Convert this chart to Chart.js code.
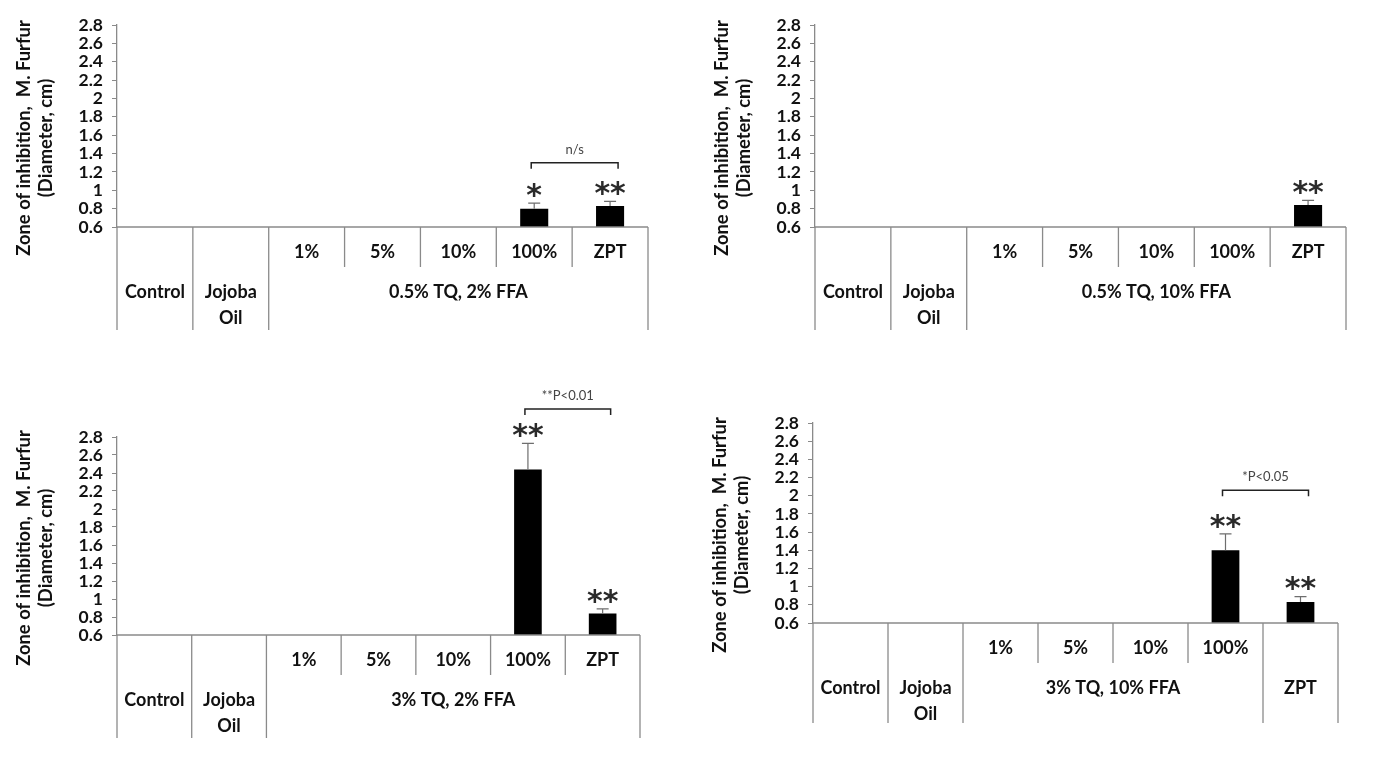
<!DOCTYPE html>
<html>
<head>
<meta charset="utf-8">
<script src="https://cdn.jsdelivr.net/npm/chart.js@4.4.1/dist/chart.umd.min.js"></script>
<style>
  html, body { margin:0; background:#fff; }
  #wrap { position:relative; width:1374px; height:760px; overflow:hidden; }
  #wrap canvas { position:absolute; }
</style>
</head>
<body>
<div id="wrap">
  <canvas id="p1" width="690" height="345" style="left:0;top:0"></canvas>
  <canvas id="p2" width="684" height="345" style="left:690px;top:0"></canvas>
  <canvas id="p3" width="690" height="415" style="left:0;top:345px"></canvas>
  <canvas id="p4" width="684" height="415" style="left:690px;top:345px"></canvas>
</div>
<script>
/* ---------- data ---------- */
const categories  = ['Control', 'Jojoba Oil', '1%', '5%', '10%', '100%', 'ZPT'];
const catLines    = [['Control'], ['Jojoba', 'Oil'], ['1%'], ['5%'], ['10%'], ['100%'], ['ZPT']];
const yTickValues = [0.6, 0.8, 1, 1.2, 1.4, 1.6, 1.8, 2, 2.2, 2.4, 2.6, 2.8];
const yTickLabels = ['0.6', '0.8', '1', '1.2', '1.4', '1.6', '1.8', '2', '2.2', '2.4', '2.6', '2.8'];
const yTitle      = ['Zone of inhibition,  M. Furfur', '(Diameter, cm)'];

/* panel 1 : 0.5% TQ, 2% FFA */
const p1Values  = [null, null, null, null, null, 0.80, 0.83];
const p1Err     = [null, null, null, null, null, 0.06, 0.05];
const p1Stars   = ['', '', '', '', '', '*', '**'];
const p1Group   = '0.5% TQ, 2% FFA';
const p1Bracket = 'n/s';

/* panel 2 : 0.5% TQ, 10% FFA */
const p2Values  = [null, null, null, null, null, null, 0.84];
const p2Err     = [null, null, null, null, null, null, 0.05];
const p2Stars   = ['', '', '', '', '', '', '**'];
const p2Group   = '0.5% TQ, 10% FFA';

/* panel 3 : 3% TQ, 2% FFA */
const p3Values  = [null, null, null, null, null, 2.44, 0.84];
const p3Err     = [null, null, null, null, null, 0.29, 0.05];
const p3Stars   = ['', '', '', '', '', '**', '**'];
const p3Group   = '3% TQ, 2% FFA';
const p3Bracket = '**P<0.01';

/* panel 4 : 3% TQ, 10% FFA */
const p4Values  = [0.6, 0.6, 0.6, 0.6, 0.6, 1.40, 0.83];
const p4Err     = [null, null, null, null, null, 0.18, 0.06];
const p4Stars   = ['', '', '', '', '', '**', '**'];
const p4Group   = '3% TQ, 10% FFA';
const p4Bracket = '*P<0.05';

/* ---------- style ---------- */
const FONT  = "Lato, 'Open Sans', sans-serif";
const LINE  = '#8a8a8a';
const TEXT  = '#111';
Chart.defaults.font.family = FONT;

/* ---------- plugins ---------- */
const yTitlePlugin = {
  id: 'yTitle',
  afterDraw (chart) {
    const { ctx, chartArea: a } = chart;
    const cy = (a.top + a.bottom) / 2 + 12;
    ctx.save();
    ctx.fillStyle = TEXT;
    ctx.font = `bold 20px ${FONT}`;
    const k = 236 / ctx.measureText(yTitle[0]).width;      // fit first line to ~236px
    ctx.font = `bold ${(20 * k).toFixed(1)}px ${FONT}`;
    ctx.textAlign = 'center';
    ctx.textBaseline = 'middle';
    [a.left - 93, a.left - 71].forEach((x, i) => {
      ctx.save();
      ctx.translate(x, cy);
      ctx.rotate(-Math.PI / 2);
      ctx.fillText(yTitle[i], 0, 0);
      ctx.restore();
    });
    ctx.restore();
  }
};

const tablePlugin = {
  id: 'table',
  afterDraw (chart, args, o) {
    const { ctx, chartArea: a } = chart;
    const n    = categories.length;
    const w    = (a.right - a.left) / n;
    const edge = i => a.left + i * w;
    const top = a.bottom, mid = a.bottom + 40, bot = a.bottom + o.depth;

    ctx.save();
    ctx.strokeStyle = LINE;
    ctx.lineWidth = 1.3;
    const seg = (x1, y1, x2, y2) => {
      ctx.beginPath(); ctx.moveTo(x1, y1); ctx.lineTo(x2, y2); ctx.stroke();
    };
    seg(a.left, top, a.right, top);
    for (let i = 0; i <= n; i++) {
      const full = i <= 2 || i === o.groupEnd + 1 || i === n;
      seg(edge(i), top, edge(i), full ? bot : mid);
    }

    ctx.fillStyle = TEXT;
    ctx.font = `bold 18px ${FONT}`;
    ctx.textAlign = 'center';
    ctx.textBaseline = 'middle';
    catLines.forEach((lines, i) => {
      const cx = edge(i) + w / 2;
      const inRow1 = i >= 2 && i <= o.groupEnd;
      lines.forEach((t, k) => ctx.fillText(t, cx, (inRow1 ? top + 25 : top + 65) + k * 26));
    });
    ctx.fillText(o.group, (edge(2) + edge(o.groupEnd + 1)) / 2, top + 65);
    ctx.restore();
  }
};

const marksPlugin = {
  id: 'marks',
  afterDatasetsDraw (chart, args, o) {
    const { ctx, scales: { x, y } } = chart;
    ctx.save();
    o.values.forEach((v, i) => {
      if (v == null) return;
      const cx = x.getPixelForValue(i);
      let topY = y.getPixelForValue(v);
      const e = o.err[i];
      if (e) {
        const ey = y.getPixelForValue(v + e);
        ctx.strokeStyle = '#6e6e6e';
        ctx.lineWidth = 1.2;
        ctx.beginPath();
        ctx.moveTo(cx, topY); ctx.lineTo(cx, ey);
        ctx.moveTo(cx - 6, ey); ctx.lineTo(cx + 6, ey);
        ctx.stroke();
        topY = ey;
      }
      if (o.stars[i]) {
        ctx.fillStyle = '#2a2a2a';
        ctx.font = `bold 30px 'DejaVu Sans', sans-serif`;
        ctx.textAlign = 'center';
        ctx.textBaseline = 'middle';
        ctx.fillText(o.stars[i], cx, topY - 6);
      }
    });

    const b = o.bracket;
    if (b) {
      const x1 = x.getPixelForValue(b.from) - 3;
      const x2 = x.getPixelForValue(b.to) + 8;
      const by = y.getPixelForValue(b.level);
      ctx.strokeStyle = '#222';
      ctx.lineWidth = 1.5;
      ctx.beginPath();
      ctx.moveTo(x1, by + 6); ctx.lineTo(x1, by); ctx.lineTo(x2, by); ctx.lineTo(x2, by + 6);
      ctx.stroke();
      ctx.fillStyle = '#444';
      ctx.font = `13px ${FONT}`;
      ctx.textAlign = 'center';
      ctx.textBaseline = 'middle';
      ctx.fillText(b.label, (x1 + x2) / 2, by - 13);
    }
    ctx.restore();
  }
};

/* ---------- build ---------- */
function makePanel (id, cfg) {
  return new Chart(document.getElementById(id), {
    type: 'bar',
    data: {
      labels: categories,
      datasets: [{
        data: cfg.values,
        backgroundColor: '#000',
        barPercentage: 0.37,
        categoryPercentage: 1,
        minBarLength: cfg.minBar || 0
      }]
    },
    options: {
      responsive: false,
      animation: false,
      layout: { padding: { left: 0, top: cfg.pad.top, right: cfg.pad.right, bottom: cfg.pad.bottom } },
      plugins: {
        legend: { display: false },
        tooltip: { enabled: false },
        table: { depth: cfg.depth, groupEnd: cfg.groupEnd, group: cfg.group },
        marks: { values: cfg.values, err: cfg.err, stars: cfg.stars, bracket: cfg.bracket }
      },
      scales: {
        x: { display: false },
        y: {
          min: 0.6, max: 2.8,
          afterBuildTicks: s => { s.ticks = yTickValues.map(v => ({ value: v })); },
          afterFit: s => { s.width = cfg.axisW; },
          border: { display: true, color: LINE, width: 1.3 },
          grid: { drawOnChartArea: false, drawTicks: true, tickLength: 5, color: LINE },
          ticks: {
            autoSkip: false,
            padding: 9, color: TEXT,
            font: { size: 17.5, weight: 'bold' },
            callback: (v, i) => yTickLabels[i]
          }
        }
      }
    },
    plugins: [yTitlePlugin, tablePlugin, marksPlugin]
  });
}

makePanel('p1', { values: p1Values, err: p1Err, stars: p1Stars, group: p1Group, groupEnd: 6,
  bracket: { from: 5, to: 6, level: 1.30, label: p1Bracket },
  axisW: 117, pad: { top: 25, right: 42, bottom: 118 }, depth: 103 });

makePanel('p2', { values: p2Values, err: p2Err, stars: p2Stars, group: p2Group, groupEnd: 6,
  axisW: 125, pad: { top: 25, right: 28, bottom: 118 }, depth: 103 });

makePanel('p3', { values: p3Values, err: p3Err, stars: p3Stars, group: p3Group, groupEnd: 6,
  bracket: { from: 5, to: 6, level: 3.11, label: p3Bracket },
  axisW: 117, pad: { top: 92, right: 50, bottom: 125 }, depth: 103 });

makePanel('p4', { values: p4Values, err: p4Err, stars: p4Stars, group: p4Group, groupEnd: 5,
  bracket: { from: 5, to: 6, level: 2.06, label: p4Bracket }, minBar: 2,
  axisW: 123, pad: { top: 78, right: 36, bottom: 137 }, depth: 100 });
</script>
</body>
</html>
